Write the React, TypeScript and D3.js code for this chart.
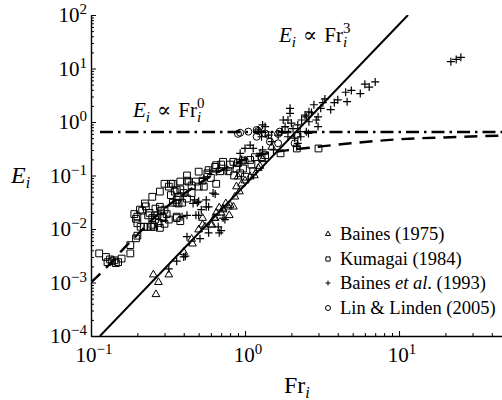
import React, { useRef, useEffect } from "react";
import * as d3 from "d3";

// Baines (1975) -- triangles  [Fr_i, E_i]
const baines1975 = [
  [0.254, 0.0014], [0.274, 0.00101], [0.264, 0.0006], [0.32, 0.0014], [0.4, 0.0037],
  [0.456, 0.0053], [0.5, 0.0097], [0.53, 0.012], [0.6, 0.012], [0.63, 0.016],
  [0.65, 0.02], [0.79, 0.018], [0.72, 0.024], [0.53, 0.016], [0.72, 0.023],
  [0.78, 0.026], [0.8, 0.028], [0.88, 0.062], [0.9, 0.095], [0.86, 0.04],
  [0.84, 0.026], [0.61, 0.012], [0.64, 0.016], [1.08, 0.095], [1.25, 0.15],
  [1.49, 0.34], [1.3, 0.2], [1.22, 0.137], [0.7, 0.02], [0.75, 0.03],
  [0.95, 0.07], [1.0, 0.08], [0.55, 0.011], [0.45, 0.0065], [0.68, 0.025],
  [0.92, 0.05], [1.15, 0.1],
];

// Kumagai (1984) -- squares
const kumagai1984 = [
  [0.113, 0.0035], [0.125, 0.003], [0.133, 0.0027], [0.128, 0.0024], [0.142, 0.0026],
  [0.15, 0.0024], [0.158, 0.0028], [0.145, 0.0023], [0.137, 0.0025], [0.18, 0.0035],
  [0.18, 0.005], [0.196, 0.0067], [0.2, 0.0075],
  [0.196, 0.0155], [0.191, 0.019], [0.2, 0.0128], [0.2, 0.017], [0.21, 0.011],
  [0.22, 0.011], [0.233, 0.011], [0.245, 0.011], [0.257, 0.011], [0.28, 0.0105],
  [0.25, 0.016], [0.27, 0.018], [0.26, 0.015], [0.29, 0.017], [0.285, 0.022],
  [0.3, 0.023], [0.31, 0.019], [0.227, 0.0265], [0.215, 0.022], [0.24, 0.02],
  [0.262, 0.024], [0.275, 0.013], [0.3, 0.0125], [0.32, 0.015],
  [0.25, 0.04], [0.33, 0.043], [0.34, 0.031], [0.36, 0.035], [0.37, 0.04],
  [0.39, 0.031], [0.42, 0.037], [0.45, 0.047], [0.36, 0.016], [0.37, 0.03],
  [0.28, 0.026], [0.295, 0.016], [0.36, 0.017], [0.38, 0.014], [0.25, 0.012],
  [0.208, 0.023], [0.224, 0.03], [0.235, 0.018], [0.28, 0.05], [0.3, 0.07],
  [0.33, 0.07], [0.36, 0.053], [0.38, 0.077], [0.42, 0.08], [0.45, 0.065],
  [0.48, 0.077], [0.5, 0.118], [0.58, 0.126], [0.65, 0.156], [0.72, 0.18],
  [0.54, 0.062], [0.36, 0.031],
  [0.34, 0.07], [0.35, 0.05], [0.38, 0.055], [0.4, 0.047], [0.42, 0.1],
  [0.43, 0.077], [0.5, 0.062], [0.53, 0.08], [0.57, 0.11], [0.6, 0.09],
  [0.64, 0.145], [0.65, 0.07], [0.69, 0.12], [0.7, 0.16], [0.78, 0.12],
  [0.8, 0.16], [0.85, 0.1], [0.88, 0.135], [0.32, 0.062], [0.97, 0.19],
  [0.84, 0.18], [0.9, 0.17], [0.97, 0.135], [0.93, 0.11], [1.0, 0.095],
  [1.08, 0.195], [1.1, 0.16], [1.16, 0.22], [1.13, 0.12], [1.28, 0.22],
  [1.35, 0.24], [1.7, 0.26], [2.17, 0.32], [3.0, 0.32],
];

// Baines et al. (1993) -- crosses
const baines1993 = [
  [0.36, 0.0025], [0.41, 0.0031], [0.32, 0.0018], [0.51, 0.0066], [0.68, 0.0085],
  [0.72, 0.016], [0.5, 0.018], [0.42, 0.018], [0.56, 0.026], [0.4, 0.003],
  [0.42, 0.0072], [0.48, 0.018], [0.39, 0.017], [0.49, 0.031], [0.5, 0.033],
  [0.52, 0.023], [0.46, 0.03], [0.59, 0.12], [0.67, 0.011], [0.7, 0.0093],
  [0.64, 0.045], [0.93, 0.26], [1.0, 0.32], [0.95, 0.2], [0.58, 0.026],
  [0.58, 0.0085], [0.74, 0.015], [0.76, 0.126], [0.54, 0.088], [0.47, 0.035],
  [0.65, 0.117], [0.56, 0.035], [0.62, 0.047],
  [1.35, 0.82], [1.22, 0.71], [1.73, 0.66], [1.82, 0.82], [1.9, 1.09],
  [2.0, 0.95], [2.05, 0.75], [2.2, 0.88], [2.33, 1.09], [2.45, 1.35],
  [2.6, 1.55], [1.96, 1.45], [1.77, 1.09], [2.28, 0.66], [2.58, 0.61],
  [2.2, 0.4], [2.1, 0.5], [1.9, 0.53], [1.64, 0.57], [1.08, 0.37],
  [1.13, 0.32], [1.0, 0.195], [0.93, 0.17], [1.3, 0.3], [1.49, 0.43],
  [1.42, 0.57], [1.28, 0.53], [2.98, 1.25], [1.96, 1.8], [1.3, 0.88],
  [1.25, 0.26], [1.53, 0.3], [2.16, 0.35],
  [6.0, 5.1], [6.4, 4.5], [7.0, 5.6], [4.9, 3.9], [4.5, 3.6],
  [5.6, 3.4], [4.6, 2.4], [4.0, 2.6], [3.6, 1.7], [3.3, 2.7],
  [3.8, 2.3], [3.2, 2.3], [2.8, 2.1], [2.7, 1.5], [3.1, 1.8],
  [2.5, 1.25], [2.9, 1.09], [2.6, 1.01], [2.98, 0.82], [2.3, 0.53],
  [2.5, 0.66],
  [21.7, 13.4], [23.5, 14.8], [25.2, 16.2],
];

// Lin & Linden (2005) -- circles
const linLinden2005 = [
  [0.9, 0.6], [0.93, 0.63], [1.05, 0.66], [1.19, 0.71], [1.19, 0.53],
  [1.35, 0.61], [1.42, 0.57], [1.45, 0.43], [1.64, 0.4], [1.68, 0.66],
  [1.82, 0.71], [2.16, 0.57], [2.1, 0.4], [1.64, 0.6], [1.22, 0.68],
];

// reference curves
const cubeLine = [[0.1144, 1e-4], [11.44, 100]];
const constLine = [[0.1144, 0.65], [50, 0.65]];
const modelCurve = [
  [0.1, 0.001], [0.13, 0.0021], [0.164, 0.0044], [0.2, 0.0078], [0.24, 0.0135],
  [0.3, 0.024], [0.4, 0.045], [0.5, 0.07], [0.7, 0.125], [1.0, 0.2],
  [1.4, 0.26], [1.86, 0.295], [3, 0.345], [4.85, 0.4], [10, 0.475],
  [21.5, 0.52], [50, 0.56],
];

const yTickExps = [-4, -3, -2, -1, 0, 1, 2];
const xTickExps = [-1, 0, 1];

const W = 502;
const H = 400;
const left = 91;
const right = 502;
const top = 15;
const bottom = 336;
const SERIF = "'Liberation Serif', 'DejaVu Serif', 'Times New Roman', serif";

const App = () => {
  const svgRef = useRef<SVGSVGElement>(null);

  useEffect(() => {
    const svg = d3.select(svgRef.current);
    svg.selectAll("*").remove();

    const x = d3.scaleLog().domain([0.1, 46.6]).range([left, right]);
    const y = d3.scaleLog().domain([1e-4, 1e2]).range([bottom, top]);

    const txt = (px: number, py: number, size: number) =>
      svg
        .append("text")
        .attr("x", px)
        .attr("y", py)
        .style("font-family", SERIF)
        .style("font-size", size + "px");

    svg
      .append("defs")
      .append("clipPath")
      .attr("id", "plotClip")
      .append("rect")
      .attr("x", left)
      .attr("y", top)
      .attr("width", right - left)
      .attr("height", bottom - top);

    // minor ticks between decades
    const yMajor = yTickExps.map((e) => Math.pow(10, e));
    const xMajor = [0.1, 1, 10];
    const yMinor = yMajor.slice(0, -1).flatMap((d) => d3.range(2, 10).map((k) => k * d));
    const xMinor = [0.1, 1, 10]
      .flatMap((d) => d3.range(2, 10).map((k) => k * d))
      .filter((v) => v <= 46.6);

    const yAxis = d3
      .axisLeft(y)
      .tickValues([...yMajor, ...yMinor])
      .tickFormat(() => "")
      .tickSizeInner(-5)
      .tickSizeOuter(0);
    const gy = svg.append("g").attr("transform", `translate(${left},0)`).call(yAxis);
    gy.selectAll(".tick line")
      .attr("x2", (d: any) => (yMajor.some((m) => Math.abs(m - d) / m < 1e-6) ? 5 : 3))
      .attr("stroke-width", 1);

    const xAxis = d3
      .axisBottom(x)
      .tickValues([...xMajor, ...xMinor])
      .tickFormat(() => "")
      .tickSizeInner(-5)
      .tickSizeOuter(0);
    const gx = svg.append("g").attr("transform", `translate(0,${bottom})`).call(xAxis);
    gx.selectAll(".tick line")
      .attr("y2", (d: any) => (xMajor.some((m) => Math.abs(m - d) / m < 1e-6) ? -5 : -3))
      .attr("stroke-width", 1);

    [gx, gy].forEach((g) => {
      g.select(".domain").attr("stroke-width", 1.4);
      g.selectAll("text").remove();
    });

    // tick labels 10^n
    yTickExps.forEach((e) => {
      const t = txt(left - 4, y(Math.pow(10, e)) + 7, 21).attr("text-anchor", "end").text("10");
      t.append("tspan")
        .attr("dy", -8)
        .style("font-size", "15px")
        .text(e < 0 ? "\u2212" + Math.abs(e) : String(e));
    });
    xTickExps.forEach((e) => {
      const t = txt(x(Math.pow(10, e)) + 3, 362, 21).attr("text-anchor", "middle").text("10");
      t.append("tspan")
        .attr("dy", -8)
        .style("font-size", "15px")
        .text(e < 0 ? "\u2212" + Math.abs(e) : String(e));
    });

    // axis titles
    const yt = txt(11, 183, 24);
    yt.append("tspan").attr("font-style", "italic").text("E");
    yt.append("tspan").attr("font-style", "italic").style("font-size", "16px").attr("dy", 5).text("i");

    const xt = txt(284, 393, 24);
    xt.append("tspan").text("Fr");
    xt.append("tspan").attr("font-style", "italic").style("font-size", "16px").attr("dy", 5).text("i");

    // reference lines
    const line = d3
      .line<number[]>()
      .x((d) => x(d[0]))
      .y((d) => y(d[1]));
    const curve = d3
      .line<number[]>()
      .x((d) => x(d[0]))
      .y((d) => y(d[1]))
      .curve(d3.curveMonotoneX);

    const plot = svg.append("g").attr("clip-path", "url(#plotClip)");
    plot
      .append("path")
      .attr("d", curve(modelCurve))
      .attr("fill", "none")
      .attr("stroke", "#000")
      .attr("stroke-width", 2.4)
      .attr("stroke-dasharray", "13,8");
    plot
      .append("path")
      .attr("d", line(constLine))
      .attr("fill", "none")
      .attr("stroke", "#000")
      .attr("stroke-width", 2.4)
      .attr("stroke-dasharray", "13,5,2.5,5");
    plot
      .append("path")
      .attr("d", line(cubeLine))
      .attr("fill", "none")
      .attr("stroke", "#000")
      .attr("stroke-width", 2);

    // markers
    const tri = d3.symbol().type(d3.symbolTriangle).size(26);
    const sq = d3.symbol().type(d3.symbolSquare).size(46);
    const triSmall = d3.symbol().type(d3.symbolTriangle).size(11);
    const sqSmall = d3.symbol().type(d3.symbolSquare).size(18);

    plot
      .selectAll(".kum")
      .data(kumagai1984)
      .enter()
      .append("path")
      .attr("d", sq() as string)
      .attr("transform", (d) => `translate(${x(d[0])},${y(d[1])})`)
      .attr("fill", "none")
      .attr("stroke", "#000")
      .attr("stroke-width", 1);
    plot
      .selectAll(".b75")
      .data(baines1975)
      .enter()
      .append("path")
      .attr("d", tri() as string)
      .attr("transform", (d) => `translate(${x(d[0])},${y(d[1])})`)
      .attr("fill", "none")
      .attr("stroke", "#000")
      .attr("stroke-width", 1);
    plot
      .selectAll(".b93")
      .data(baines1993)
      .enter()
      .append("path")
      .attr("d", "M-4,0H4M0,-4V4")
      .attr("transform", (d) => `translate(${x(d[0])},${y(d[1])})`)
      .attr("fill", "none")
      .attr("stroke", "#000")
      .attr("stroke-width", 1.2);
    plot
      .selectAll(".ll")
      .data(linLinden2005)
      .enter()
      .append("circle")
      .attr("cx", (d) => x(d[0]))
      .attr("cy", (d) => y(d[1]))
      .attr("r", 3.5)
      .attr("fill", "none")
      .attr("stroke", "#000")
      .attr("stroke-width", 1);

    // annotations
    const annotate = (ax: number, ay: number, power: string) => {
      const t = txt(ax, ay, 21);
      t.append("tspan").attr("font-style", "italic").text("E");
      t.append("tspan").attr("font-style", "italic").style("font-size", "15px").attr("dy", 5).text("i");
      t.append("tspan").attr("dy", -5).attr("dx", 7).text("\u221D");
      t.append("tspan").attr("dx", 7).text("Fr");
      t.append("tspan").attr("font-style", "italic").style("font-size", "15px").attr("dy", 5).text("i");
      t.append("tspan").style("font-size", "15px").attr("dx", -4).attr("dy", -14).text(power);
    };
    annotate(133, 117, "0");
    annotate(279, 42, "3");

    // legend
    const legendY = [234, 259, 283, 308];
    const lg = svg.append("g");
    const mx = 328;
    lg.append("path")
      .attr("d", triSmall() as string)
      .attr("transform", `translate(${mx},${legendY[0]})`)
      .attr("fill", "none")
      .attr("stroke", "#000");
    lg.append("path")
      .attr("d", sqSmall() as string)
      .attr("transform", `translate(${mx},${legendY[1]})`)
      .attr("fill", "none")
      .attr("stroke", "#000");
    lg.append("path")
      .attr("d", "M-2.5,0H2.5M0,-2.5V2.5")
      .attr("transform", `translate(${mx},${legendY[2]})`)
      .attr("stroke", "#000");
    lg.append("circle")
      .attr("cx", mx)
      .attr("cy", legendY[3])
      .attr("r", 2.5)
      .attr("fill", "none")
      .attr("stroke", "#000");

    const lt = (i: number) => txt(340, legendY[i] + 6, 18.5);
    lt(0).text("Baines (1975)");
    lt(1).text("Kumagai (1984)");
    const t3 = lt(2);
    t3.append("tspan").text("Baines ");
    t3.append("tspan").attr("font-style", "italic").text("et al");
    t3.append("tspan").text(". (1993)");
    lt(3).text("Lin & Linden (2005)");
  }, []);

  return (
    <svg
      ref={svgRef}
      width={W}
      height={H}
      style={{ position: "absolute", left: 0, top: 0, background: "#fff" }}
    ></svg>
  );
};

export default App;
